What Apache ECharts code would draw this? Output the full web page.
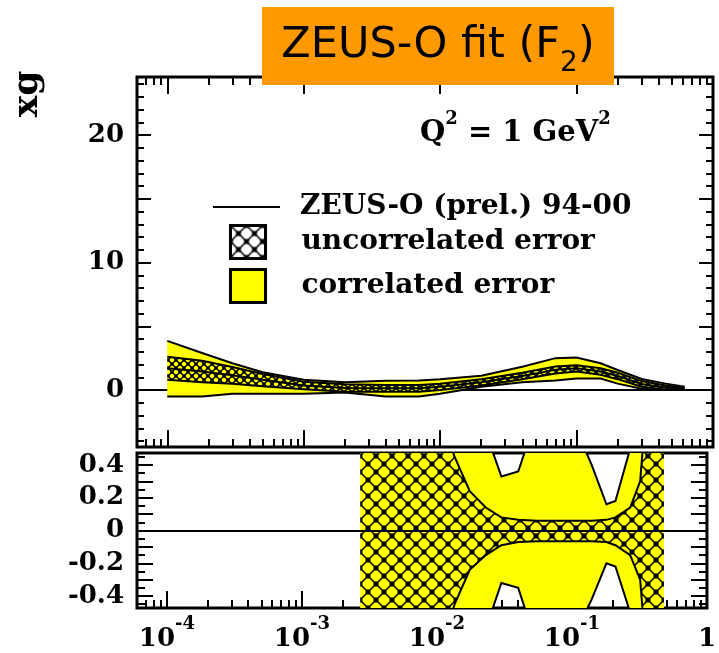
<!DOCTYPE html>
<html>
<head>
<meta charset="utf-8">
<title>ZEUS-O fit (F2)</title>
<script src="https://cdn.jsdelivr.net/npm/echarts@6/dist/echarts.min.js"></script>
<style>
html, body { margin: 0; padding: 0; background: #fff; }
#chart { width: 719px; height: 653px; }
</style>
</head>
<body>
<div id="chart"></div>
<script>
// top panel: xg at Q2 = 1 GeV2
var xTop = [1e-4, 1.8e-4, 3e-4, 5e-4, 1e-3, 2e-3, 4e-3, 7e-3, 0.01, 0.02, 0.04, 0.07, 0.1, 0.15, 0.2, 0.3, 0.45, 0.62];
var xgTop = [1.7, 1.45, 1.15, 0.8, 0.35, 0.15, 0.13, 0.13, 0.25, 0.6, 1.1, 1.58, 1.7, 1.45, 1.1, 0.47, 0.2, 0.08];
var uncLoTop = [0.8, 0.6, 0.5, 0.3, 0.05, -0.13, -0.13, -0.13, 0.0, 0.35, 0.85, 1.3, 1.45, 1.2, 0.85, 0.25, 0.05, 0.0];
var uncHiTop = [2.6, 2.3, 1.8, 1.25, 0.65, 0.45, 0.4, 0.4, 0.5, 0.85, 1.35, 1.85, 1.95, 1.7, 1.35, 0.7, 0.35, 0.15];
var corLoTop = [-0.5, -0.5, -0.3, -0.3, -0.3, -0.2, -0.5, -0.5, -0.3, 0.25, 0.6, 0.75, 0.9, 0.9, 0.5, 0.1, 0.0, 0.0];
var corHiTop = [3.85, 2.9, 2.1, 1.4, 0.8, 0.6, 0.73, 0.75, 0.85, 1.12, 1.83, 2.5, 2.55, 2.1, 1.57, 0.86, 0.5, 0.25];

// bottom panel: relative errors
var xBot = [0.0027, 0.005, 0.01, 0.0135, 0.0175, 0.023, 0.03, 0.04, 0.055, 0.078, 0.11, 0.14, 0.18, 0.21, 0.27, 0.32, 0.35, 0.48];
var uncLoBot = [-1.0, -1.0, -0.8, -0.45, -0.24, -0.15, -0.09, -0.07, -0.065, -0.065, -0.065, -0.065, -0.07, -0.09, -0.15, -0.3, -0.7, -1.0];
var uncHiBot = [1.0, 1.0, 0.8, 0.45, 0.24, 0.14, 0.08, 0.065, 0.06, 0.06, 0.06, 0.06, 0.065, 0.08, 0.14, 0.3, 0.7, 1.0];
var corLoBot = [-1.0, -1.0, -1.0, -1.0, -1.0, -0.6, -0.32, -0.35, -0.7, -0.9, -0.6, -0.42, -0.2, -0.22, -0.5, -1.0, -1.0, -1.0];
var corHiBot = [1.0, 1.0, 1.0, 1.0, 1.0, 0.6, 0.33, 0.36, 0.7, 0.9, 0.6, 0.4, 0.16, 0.18, 0.5, 1.0, 1.0, 1.0];

// ticks / labels
var xDecades = [-4, -3, -2, -1, 0];
var yTopLabels = [0, 10, 20];
var yTopMajor = [0, 5, 10, 15, 20];
var yBotLabels = [-0.4, -0.2, 0, 0.2, 0.4];

var X_MIN = Math.log10(6e-5), X_MAX = 0;
var SERIF = "'DejaVu Serif', serif";

var xMinor = [];
for (var d = -5; d < 0; d++) {
  for (var k = 2; k <= 9; k++) {
    var v = d + Math.log10(k);
    if (v > X_MIN) xMinor.push(v);
  }
}
var yTopMinor = [];
for (var i = -4; i <= 24; i++) yTopMinor.push(i);
var yBotMajor = [], yBotMinor = [];
for (var i = -4; i <= 4; i++) yBotMajor.push(i / 10);
for (var i = -9; i <= 9; i += 2) yBotMinor.push(i / 20);

// crosshatch pattern like the ROOT fill style
function hatch(size, sq, bg) {
  var c = document.createElement('canvas');
  c.width = size; c.height = size;
  var ctx = c.getContext('2d');
  if (bg) { ctx.fillStyle = bg; ctx.fillRect(0, 0, size, size); }
  ctx.strokeStyle = '#000';
  ctx.lineWidth = 1.5;
  ctx.beginPath();
  ctx.moveTo(0, 0); ctx.lineTo(size, size);
  ctx.moveTo(size, 0); ctx.lineTo(0, size);
  ctx.stroke();
  ctx.fillStyle = '#000';
  var h = sq / 2;
  [[0, 0], [size, 0], [0, size], [size, size], [size / 2, size / 2]].forEach(function (p) {
    ctx.fillRect(p[0] - h, p[1] - h, 2 * h, 2 * h);
  });
  return { image: c, repeat: 'repeat' };
}
var hatchTop = hatch(8, 3);
var hatchBot = hatch(16, 5);
var hatchLegend = hatch(16, 5, '#fff');

function lx(x) { return Math.log10(x); }

function band(name, gi, xs, lo, hi, fill, edge, extra) {
  var s = {
    name: name, type: 'custom', xAxisIndex: gi === 0 ? 0 : 5, yAxisIndex: gi === 0 ? 0 : 4,
    clip: true,
    itemStyle: { color: fill },
    data: xs.map(function (x, i) { return [lx(x), lo[i], hi[i]]; }),
    renderItem: function (params, api) {
      if (params.dataIndex !== 0) return null;
      var up = [], dn = [];
      for (var i = 0; i < xs.length; i++) {
        up.push(api.coord([lx(xs[i]), hi[i]]));
        dn.push(api.coord([lx(xs[i]), lo[i]]));
      }
      return {
        type: 'group',
        children: [
          { type: 'polygon', shape: { points: up.concat(dn.slice().reverse()) }, style: { fill: fill } },
          { type: 'polyline', shape: { points: up }, style: { stroke: '#000', lineWidth: edge, fill: null } },
          { type: 'polyline', shape: { points: dn }, style: { stroke: '#000', lineWidth: edge, fill: null } }
        ]
      };
    }
  };
  if (extra) for (var key in extra) s[key] = extra[key];
  return s;
}

function xAxis(grid, pos, ticks, len, labels) {
  var a = {
    type: 'value', gridIndex: grid, position: pos, min: X_MIN, max: X_MAX,
    axisLine: { show: false, onZero: false },
    splitLine: { show: false },
    axisTick: { show: true, inside: true, length: len, customValues: ticks, lineStyle: { color: '#000', width: 2 } },
    axisLabel: { show: false }
  };
  if (labels) {
    a.axisLabel = {
      show: true, margin: 7, customValues: xDecades,
      formatter: function (v) { return v === 0 ? '{b|1}' : '{b|10}{s|' + v + '}'; },
      rich: {
        b: { fontFamily: SERIF, fontWeight: 'bold', fontSize: 26, color: '#000', lineHeight: 48 },
        s: { fontFamily: SERIF, fontWeight: 'bold', fontSize: 18, color: '#000', lineHeight: 18, verticalAlign: 'top' }
      }
    };
  }
  return a;
}

function yAxis(grid, pos, min, max, ticks, len, labels, fmt) {
  var a = {
    type: 'value', gridIndex: grid, position: pos, min: min, max: max,
    axisLine: { show: false, onZero: false },
    splitLine: { show: false },
    axisTick: { show: true, inside: true, length: len, customValues: ticks, lineStyle: { color: '#000', width: 2 } },
    axisLabel: { show: false }
  };
  if (labels) {
    a.axisLabel = {
      show: true, margin: 13, customValues: labels, formatter: fmt,
      fontFamily: SERIF, fontWeight: 'bold', fontSize: 26, color: '#000'
    };
  }
  return a;
}

var TOP_MIN = -4.47, TOP_MAX = 24.55;
var BOT_MIN = -0.473, BOT_MAX = 0.473;

var zeroLine = {
  silent: true, symbol: 'none', z: 10,
  label: { show: false },
  lineStyle: { color: '#000', type: 'solid', width: 2 },
  data: [{ yAxis: 0 }]
};

var legendText = { fontFamily: SERIF, fontWeight: 'bold', fontSize: 28, color: '#000' };

var myChart = echarts.init(document.getElementById('chart'));
myChart.setOption({
  animation: false,
  backgroundColor: '#fff',
  grid: [
    { left: 137, right: 6, top: 77, height: 370, show: true, borderColor: '#000', borderWidth: 3, backgroundColor: 'transparent' },
    { left: 137, right: 6, top: 453, height: 155, show: true, borderColor: '#000', borderWidth: 3, backgroundColor: 'transparent' }
  ],
  xAxis: [
    xAxis(0, 'bottom', xDecades, 17, false),
    xAxis(0, 'bottom', xMinor, 8, false),
    xAxis(0, 'top', xDecades, 17, false),
    xAxis(0, 'top', xMinor, 8, false),
    // zero line of the upper panel (drawn under the bands)
    {
      type: 'value', gridIndex: 0, min: X_MIN, max: X_MAX,
      axisLine: { show: true, onZero: true, lineStyle: { color: '#000', width: 2 } },
      axisTick: { show: false }, axisLabel: { show: false }, splitLine: { show: false }
    },
    xAxis(1, 'bottom', xDecades, 17, true),
    xAxis(1, 'bottom', xMinor, 8, false)
  ],
  yAxis: [
    yAxis(0, 'left', TOP_MIN, TOP_MAX, yTopMajor, 14, yTopLabels, function (v) { return String(v); }),
    yAxis(0, 'left', TOP_MIN, TOP_MAX, yTopMinor, 7),
    yAxis(0, 'right', TOP_MIN, TOP_MAX, yTopMajor, 14),
    yAxis(0, 'right', TOP_MIN, TOP_MAX, yTopMinor, 7),
    yAxis(1, 'left', BOT_MIN, BOT_MAX, yBotMajor, 16, yBotLabels, function (v) { return v === 0 ? '0' : v.toFixed(1); }),
    yAxis(1, 'left', BOT_MIN, BOT_MAX, yBotMinor, 8),
    yAxis(1, 'right', BOT_MIN, BOT_MAX, yBotMajor, 16),
    yAxis(1, 'right', BOT_MIN, BOT_MAX, yBotMinor, 8)
  ],
  legend: [
    {
      data: [{ name: 'ZEUS-O (prel.) 94-00', icon: 'rect', itemStyle: { color: '#000' } }],
      left: 213, top: 193, padding: 0, itemWidth: 67, itemHeight: 2,
      selectedMode: false,
      textStyle: Object.assign({ padding: [0, 0, 0, 15] }, legendText)
    },
    {
      data: [
        { name: 'uncorrelated error', icon: 'rect', itemStyle: { color: hatchLegend, borderColor: '#000', borderWidth: 3 } },
        { name: 'correlated error', icon: 'rect', itemStyle: { color: '#ffff00', borderColor: '#000', borderWidth: 3 } }
      ],
      orient: 'vertical', left: 229, top: 224, padding: 0, itemWidth: 35, itemHeight: 33, itemGap: 8,
      selectedMode: false,
      textStyle: Object.assign({ padding: [0, 0, 0, 31] }, legendText)
    }
  ],
  graphic: [
    { type: 'rect', left: 262, top: 7, shape: { width: 352, height: 78 }, style: { fill: '#ff9900' }, z: 100 },
    {
      type: 'text', x: 438, y: 46, z: 101,
      style: {
        text: '{a|ZEUS-O fit (F}{b|2}{a|)}', align: 'center', verticalAlign: 'middle',
        rich: {
          a: { fontFamily: "'DejaVu Sans', sans-serif", fontSize: 43, fill: '#000', lineHeight: 64 },
          b: { fontFamily: "'DejaVu Sans', sans-serif", fontSize: 28, fill: '#000', lineHeight: 28, verticalAlign: 'bottom' }
        }
      }
    },
    {
      type: 'text', x: 28, y: 94, rotation: Math.PI / 2, z: 50,
      style: { text: 'xg', align: 'center', verticalAlign: 'middle', fontFamily: SERIF, fontWeight: 'bold', fontSize: 36, fill: '#000' }
    },
    {
      type: 'text', x: 420, y: 133, z: 50,
      style: {
        text: '{q|Q}{s|2}{q| = 1 GeV}{s|2}', align: 'left', verticalAlign: 'middle',
        rich: {
          q: { fontFamily: SERIF, fontWeight: 'bold', fontSize: 29, fill: '#000', lineHeight: 46 },
          s: { fontFamily: SERIF, fontWeight: 'bold', fontSize: 18, fill: '#000', lineHeight: 18, verticalAlign: 'top' }
        }
      }
    }
  ],
  series: [
    band('correlated error', 0, xTop, corLoTop, corHiTop, '#ffff00', 2),
    band('uncorrelated error', 0, xTop, uncLoTop, uncHiTop, hatchTop, 2),
    {
      name: 'ZEUS-O (prel.) 94-00', type: 'line', xAxisIndex: 0, yAxisIndex: 0,
      symbol: 'none', clip: true,
      lineStyle: { color: '#000', width: 2 }, itemStyle: { color: '#000' },
      data: xTop.map(function (x, i) { return [lx(x), xgTop[i]]; })
    },
    band('correlated error', 1, xBot, corLoBot, corHiBot, '#ffff00', 2),
    band('uncorrelated error', 1, xBot, uncLoBot, uncHiBot, hatchBot, 2, { markLine: zeroLine })
  ]
});
</script>
</body>
</html>
